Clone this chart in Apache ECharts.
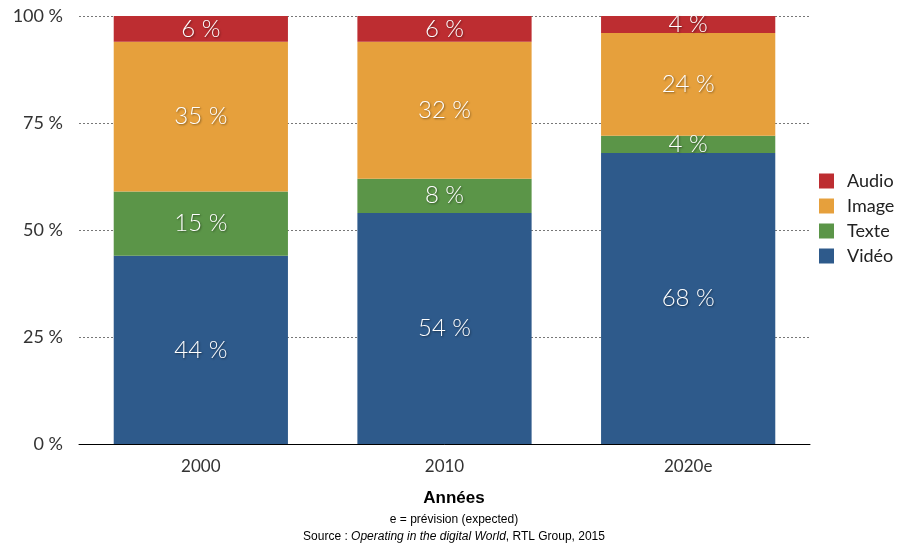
<!DOCTYPE html>
<html>
<head>
<meta charset="utf-8">
<script src="https://cdn.jsdelivr.net/npm/echarts@6/dist/echarts.min.js"></script>
<style>
  html, body { margin: 0; padding: 0; background: #fff; }
  #chart { width: 908px; height: 549px; }
</style>
</head>
<body>
<div id="chart"></div>
<script>
// données
const annees = ['2000', '2010', '2020e'];
const video = [44, 54, 68];
const texte = [15, 8, 4];
const image = [35, 32, 24];
const audio = [6, 6, 4];
const yTicks = [0, 25, 50, 75, 100];

const font = '"Liberation Sans", Arial, sans-serif';
const fontLight = 'Lato, "Open Sans", "Liberation Sans", sans-serif';

function serie(nom, data, couleur) {
    return {
        name: nom,
        type: 'bar',
        stack: 'total',
        barWidth: '71.5%',
        data: data,
        itemStyle: { color: couleur },
        label: {
            show: true,
            position: 'inside',
            formatter: '{c} %',
            color: '#fff',
            fontFamily: fontLight,
            fontWeight: 300,
            fontSize: 24,
            textShadowColor: 'rgba(0,0,0,0.45)',
            textShadowBlur: 2,
            textShadowOffsetX: 1,
            textShadowOffsetY: 1
        }
    };
}

let chart = echarts.init(document.getElementById('chart'));

let options = {
    animation: false,
    textStyle: { fontFamily: font },
    grid: { left: 79, right: 98, top: 16, bottom: 105 },
    legend: {
        orient: 'vertical',
        left: 814,
        top: 167,
        icon: 'rect',
        itemWidth: 15,
        itemHeight: 15,
        itemGap: 7,
        textStyle: { fontSize: 18, color: '#222', fontFamily: fontLight, padding: [0, 0, 0, 8] },
        data: ['Audio', 'Image', 'Texte', 'Vidéo']
    },
    xAxis: {
        type: 'category',
        data: annees,
        axisLine: { lineStyle: { color: '#000', width: 1 } },
        axisTick: { show: false },
        axisLabel: { fontSize: 17, color: '#333', margin: 14, fontFamily: fontLight }
    },
    yAxis: {
        type: 'value',
        min: 0,
        max: 100,
        interval: 25,
        axisLine: { show: false },
        axisTick: { show: false },
        axisLabel: {
            fontSize: 18,
            color: '#333',
            margin: 16,
            fontFamily: fontLight,
            formatter: function (v) { return yTicks.indexOf(v) >= 0 ? v + ' %' : ''; }
        },
        splitLine: { lineStyle: { color: '#777', type: [2, 2], width: 1 } }
    },
    series: [
        serie('Vidéo', video, '#2E5A8B'),
        serie('Texte', texte, '#5B9548'),
        serie('Image', image, '#E6A03C'),
        serie('Audio', audio, '#BD2D31')
    ],
    graphic: [
        {
            type: 'text', left: 'center', top: 490,
            style: { text: 'Années', font: 'bold 17px ' + font, fill: '#000' }
        },
        {
            type: 'text', left: 'center', top: 514,
            style: { text: 'e = prévision (expected)', font: '12px ' + font, fill: '#000' }
        },
        {
            type: 'text', left: 'center', top: 531,
            style: {
                rich: {
                    n: { font: '12px ' + font, fill: '#000' },
                    i: { font: 'italic 12px ' + font, fill: '#000' }
                },
                text: '{n|Source : }{i|Operating in the digital World}{n|, RTL Group, 2015}'
            }
        }
    ]
};

chart.setOption(options);
</script>
</body>
</html>
